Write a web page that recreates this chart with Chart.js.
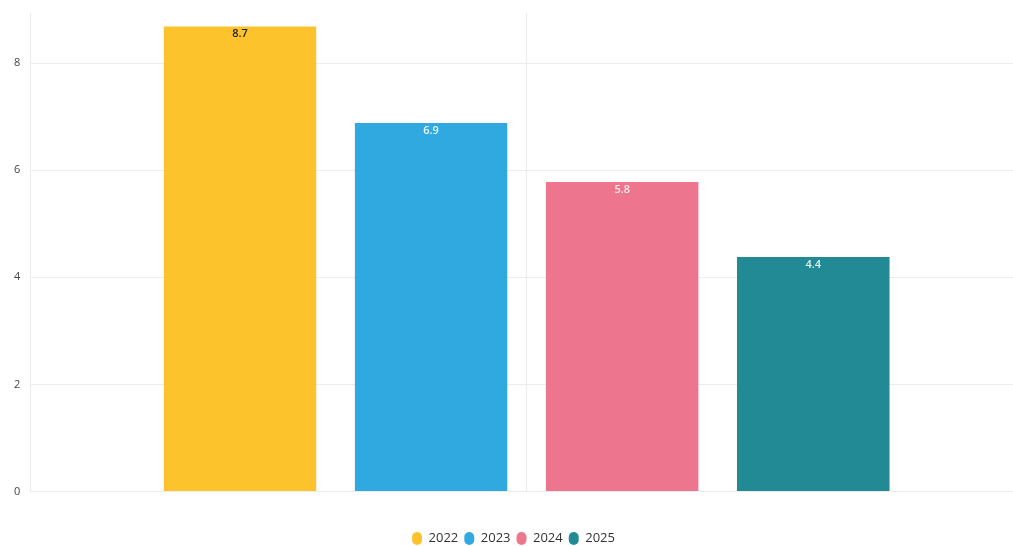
<!DOCTYPE html>
<html>
<head>
<meta charset="utf-8">
<script src="https://cdn.jsdelivr.net/npm/chart.js@4/dist/chart.umd.min.js"></script>
<style>
  html, body { margin: 0; padding: 0; background: #fff; overflow: hidden; }
  #wrap { width: 1023px; height: 546px; }
</style>
</head>
<body>
<div id="wrap"><canvas id="bar-chart"></canvas></div>
<script>
const years = ['2022', '2023', '2024', '2025'];
const values = [8.7, 6.9, 5.8, 4.4];
const yTicks = [0, 2, 4, 6, 8];

const COLORS = ['#FCC32C', '#2FA9E0', '#EE758E', '#218A94'];
const LABEL_COLORS = ['#222', '#e8f4fb', '#fbe9ed', '#e3f1f2'];

const valueLabels = {
  id: 'valueLabels',
  afterDatasetsDraw(chart) {
    const ctx = chart.ctx;
    ctx.save();
    ctx.font = '600 11px "Open Sans", sans-serif';
    ctx.textAlign = 'center';
    ctx.textBaseline = 'top';
    chart.data.datasets.forEach((ds, i) => {
      const bar = chart.getDatasetMeta(i).data[0];
      ctx.fillStyle = LABEL_COLORS[i];
      ctx.fillText(ds.data[0].toFixed(1), bar.x, bar.y + 3);
    });
    ctx.restore();
  }
};

const ctx = document.getElementById('bar-chart').getContext('2d');
new Chart(ctx, {
  type: 'bar',
  data: {
    labels: [''],
    datasets: years.map((y, i) => ({
      label: y,
      data: [values[i]],
      backgroundColor: COLORS[i],
      borderColor: 'rgba(255,255,255,0.25)',
      borderWidth: { top: 1, left: 0, right: 0, bottom: 0 },
      categoryPercentage: 0.77,
      barPercentage: 0.8,
    })),
  },
  options: {
    responsive: true,
    maintainAspectRatio: false,
    animation: false,
    layout: { padding: { left: 4, right: 0, top: 12, bottom: -9 } },
    plugins: {
      tooltip: { enabled: false },
      legend: {
        position: 'bottom',
        labels: {
          color: '#333',
          font: { family: "'Open Sans', sans-serif", size: 13 },
          boxWidth: 10,
          boxHeight: 13,
          useBorderRadius: true,
          borderRadius: 5,
          padding: 6,
        },
      },
    },
    scales: {
      x: {
        grid: { offset: false, color: '#ececec', drawTicks: false },
        border: { color: '#ececec' },
        ticks: { display: true, padding: 10 },
      },
      y: {
        min: 0,
        max: 8.93,
        afterBuildTicks: (scale) => {
          scale.ticks = yTicks.map(v => ({ value: v }));
        },
        grid: { color: '#ececec', drawTicks: false },
        border: { color: '#ececec' },
        ticks: {
          color: '#444',
          font: { family: "'Open Sans', sans-serif", size: 11, lineHeight: 0.6 },
          padding: 10,
        },
      },
    },
  },
  plugins: [valueLabels],
});
</script>
</body>
</html>
